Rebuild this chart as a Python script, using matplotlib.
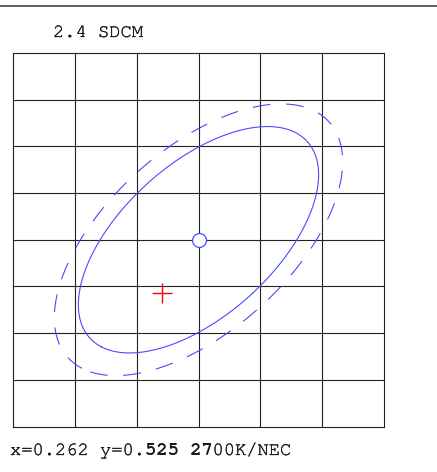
import numpy as np
import matplotlib
matplotlib.use("Agg")
import matplotlib.pyplot as plt
import matplotlib.patheffects as pe
from matplotlib import font_manager

# grid: 6 columns x 8 rows, ellipse centred in the middle
grid_x = [-3, -2, -1, 0, 1, 2, 3]
grid_y = [-4, -3, -2, -1, 0, 1, 2, 3, 4]

# 1-step ellipse metric (g11, 2*g12, g22) in grid units
g11, g12x2, g22 = 1.581, -1.455, 1.015
steps = [2.0, 2.4]           # solid, dashed
center = (0.0, 0.0)
measured = (-0.59, -1.14)    # red cross

title = "2.4 SDCM"
status = ["x=0.262 y=0.", "525 27", "00K/NEC"]
status_bold = [False, True, False]

names = {f.name for f in font_manager.fontManager.ttflist}

W, H, DPI = 437, 472, 100
fig = plt.figure(figsize=(W / DPI, H / DPI), dpi=DPI)
ax = fig.add_axes([13 / W, 1 - 426.5 / H, 371 / W, 373.5 / H])
ax.set_xlim(grid_x[0], grid_x[-1])
ax.set_ylim(grid_y[0], grid_y[-1])
ax.axis("off")

for gx in grid_x:
    ax.axvline(gx, color="#222222", lw=0.8, clip_on=False)
for gy in grid_y:
    ax.axhline(gy, color="#222222", lw=0.8, clip_on=False)

# ellipse points from the metric matrix
M = np.array([[g11, g12x2 / 2], [g12x2 / 2, g22]])
vals, vecs = np.linalg.eigh(M)
t = np.linspace(0, 2 * np.pi, 400)
unit = vecs @ np.diag(1 / np.sqrt(vals)) @ np.vstack([np.cos(t), np.sin(t)])

ax.plot(center[0] + steps[0] * unit[0], center[1] + steps[0] * unit[1],
        color="#4a4aff", lw=0.8)
ax.plot(center[0] + steps[1] * unit[0], center[1] + steps[1] * unit[1],
        color="#4a4aff", lw=0.8, linestyle=(0, (16, 14)))

ax.plot(*center, marker="o", ms=10, mfc="white", mec="#4a4aff", mew=0.9)
ax.plot(*measured, marker="+", ms=15, color="red", mew=1.0)

# top rule
fig.add_artist(plt.Line2D([0, 1], [1 - 6 / H, 1 - 6 / H], color="#444444", lw=1.2))

fs = 13.5
mono = ["Nimbus Mono PS", "FreeMono", "Courier New", "Liberation Mono"]
mono = [m for m in mono if m in names] or ["monospace"]
thick = [pe.withStroke(linewidth=0.2, foreground="#1a1a1a")]
fig.text(53 / W, 1 - 37 / H, title, fontsize=fs, family=mono,
         va="baseline", ha="left", color="#1a1a1a", path_effects=thick)

adv = 0.6 * fs * DPI / 72 / W
x0 = 10 / W
for part, bold in zip(status, status_bold):
    fig.text(x0, 1 - 455 / H, part, fontsize=fs, family=mono,
             fontweight="bold" if bold else "normal",
             va="baseline", ha="left", color="#1a1a1a",
             path_effects=None if bold else thick)
    x0 += len(part) * adv

fig.savefig("out.png", dpi=DPI)
